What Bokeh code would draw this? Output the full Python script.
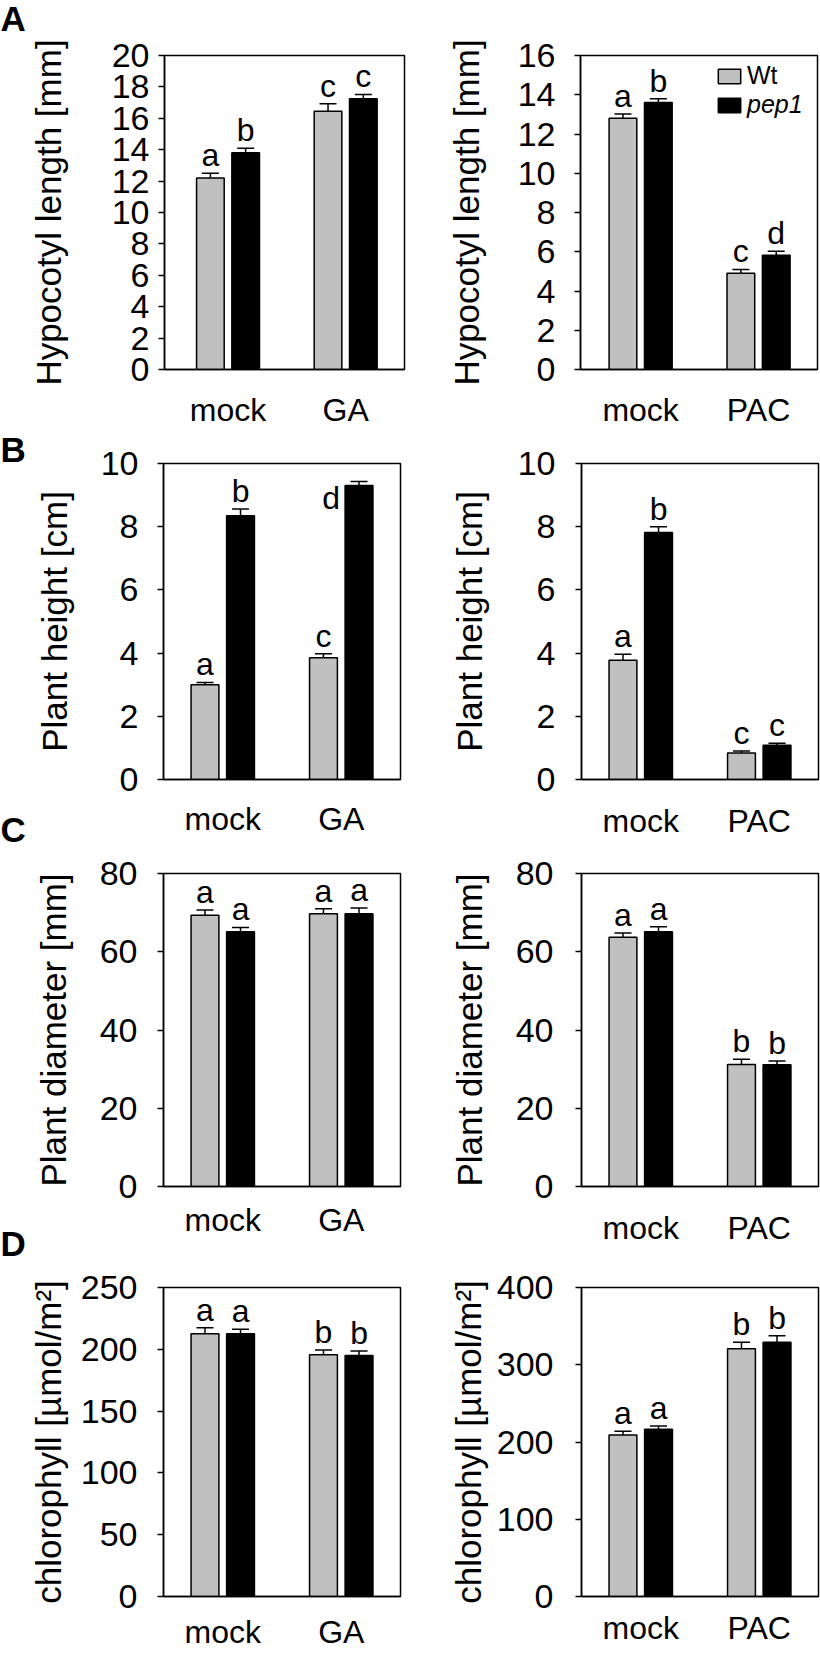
from bokeh.plotting import figure
from bokeh.models import (ColumnDataSource, Range1d, FixedTicker, Whisker, TeeHead,
                          Label, Legend, LegendItem)
from bokeh.layouts import row, column
from bokeh.embed import file_html
from bokeh.resources import INLINE
from bokeh.core.properties import value

# ---------------- data ----------------
GENOTYPES = ["Wt", "pep1"]

# A left: hypocotyl length, GA
A1_CATS = ["mock", "GA"]
A1_WT = [12.2, 16.45]
A1_WT_ERR = [0.3, 0.48]
A1_PEP = [13.8, 17.25]
A1_PEP_ERR = [0.3, 0.27]
A1_SIG_WT = ["a", "c"]
A1_SIG_PEP = ["b", "c"]

# A right: hypocotyl length, PAC
A2_CATS = ["mock", "PAC"]
A2_WT = [12.8, 4.9]
A2_WT_ERR = [0.22, 0.2]
A2_PEP = [13.6, 5.82]
A2_PEP_ERR = [0.2, 0.2]
A2_SIG_WT = ["a", "c"]
A2_SIG_PEP = ["b", "d"]

# B left: plant height, GA
B1_CATS = ["mock", "GA"]
B1_WT = [3.0, 3.85]
B1_WT_ERR = [0.07, 0.13]
B1_PEP = [8.35, 9.3]
B1_PEP_ERR = [0.21, 0.13]
B1_SIG_WT = ["a", "c"]
B1_SIG_PEP = ["b", "d"]

# B right: plant height, PAC
B2_CATS = ["mock", "PAC"]
B2_WT = [3.77, 0.84]
B2_WT_ERR = [0.19, 0.06]
B2_PEP = [7.82, 1.08]
B2_PEP_ERR = [0.18, 0.07]
B2_SIG_WT = ["a", "c"]
B2_SIG_PEP = ["b", "c"]

# C left: plant diameter, GA
C1_CATS = ["mock", "GA"]
C1_WT = [69.3, 69.7]
C1_WT_ERR = [1.4, 1.3]
C1_PEP = [65.1, 69.7]
C1_PEP_ERR = [1.1, 1.5]
C1_SIG_WT = ["a", "a"]
C1_SIG_PEP = ["a", "a"]

# C right: plant diameter, PAC
C2_CATS = ["mock", "PAC"]
C2_WT = [63.7, 31.2]
C2_WT_ERR = [1.1, 1.3]
C2_PEP = [65.1, 31.1]
C2_PEP_ERR = [1.3, 1.0]
C2_SIG_WT = ["a", "b"]
C2_SIG_PEP = ["a", "b"]

# D left: chlorophyll, GA
D1_CATS = ["mock", "GA"]
D1_WT = [212.6, 195.5]
D1_WT_ERR = [4.8, 4.0]
D1_PEP = [212.6, 195.0]
D1_PEP_ERR = [3.7, 3.7]
D1_SIG_WT = ["a", "b"]
D1_SIG_PEP = ["a", "b"]

# D right: chlorophyll, PAC
D2_CATS = ["mock", "PAC"]
D2_WT = [208.9, 320.6]
D2_WT_ERR = [5.0, 8.5]
D2_PEP = [216.5, 329.1]
D2_PEP_ERR = [4.1, 8.4]
D2_SIG_WT = ["a", "b"]
D2_SIG_PEP = ["a", "b"]

# ---------------- style ----------------
FONT = "Liberation Sans"
GREY = "#c0c0c0"
OFF = 0.15
BAR_W = 0.235
LW = 1.5
SIG_DY = -18


def panel(cats, wt, wt_err, pep, pep_err, sig_wt, sig_pep, ylabel, ymax, ystep,
          w, h, bl, br, bt, bb, x0, tick_sd, title_sd, xlab_sd, moved=None):
    p = figure(width=w, height=h, x_range=Range1d(x0, len(cats) - 0.5),
               y_range=Range1d(0, ymax), output_backend="svg",
               toolbar_location=None, title=None,
               min_border_left=bl, min_border_right=br,
               min_border_top=bt, min_border_bottom=bb)
    p.outline_line_color = "black"
    p.outline_line_width = LW
    p.outline_line_alpha = 1
    p.xgrid.visible = False
    p.ygrid.visible = False
    p.background_fill_color = "white"
    p.border_fill_color = "white"
    moved = moved or {}
    idx = list(range(len(cats)))
    rends = []
    for si, (vals, errs, sig, off, color) in enumerate(
            ((wt, wt_err, sig_wt, -OFF, GREY), (pep, pep_err, sig_pep, OFF, "black"))):
        xs = [i + off for i in idx]
        dx = [moved.get((si, i), (0, SIG_DY))[0] for i in idx]
        dy = [moved.get((si, i), (0, SIG_DY))[1] for i in idx]
        src = ColumnDataSource(dict(x=xs, top=vals,
                                    upper=[v + e for v, e in zip(vals, errs)],
                                    sig=sig, dx=dx, dy=dy))
        r = p.vbar(x="x", top="top", bottom=0, width=BAR_W, source=src,
                   fill_color=color, line_color="black", line_width=LW)
        rends.append(r)
        p.add_layout(Whisker(source=src, base="x", lower="top", upper="upper",
                             dimension="height", line_width=LW, line_color="black",
                             upper_head=TeeHead(size=17, line_width=LW, line_color="black"),
                             lower_head=None))
        p.text(x="x", y="upper", text="sig", source=src, x_offset="dx", y_offset="dy",
               text_align="center", text_baseline="alphabetic",
               text_font=value(FONT), text_font_size=value("32px"), text_color="black")

    ya = p.yaxis[0]
    ya.ticker = FixedTicker(ticks=list(range(0, ymax + 1, ystep)))
    ya.major_tick_out = 6
    ya.major_tick_in = 0
    ya.minor_tick_out = 0
    ya.minor_tick_in = 0
    ya.major_tick_line_width = LW
    ya.major_tick_line_color = "black"
    ya.axis_line_width = LW
    ya.axis_line_color = "black"
    ya.major_label_text_font = FONT
    ya.major_label_text_font_size = "34px"
    ya.major_label_text_color = "black"
    ya.major_label_standoff = tick_sd
    ya.axis_label = ylabel
    ya.axis_label_text_font = FONT
    ya.axis_label_text_font_size = "35px"
    ya.axis_label_text_font_style = "normal"
    ya.axis_label_text_color = "black"
    ya.axis_label_standoff = title_sd

    xa = p.xaxis[0]
    xa.ticker = FixedTicker(ticks=idx)
    xa.major_label_overrides = {i: c for i, c in enumerate(cats)}
    xa.major_tick_out = 0
    xa.major_tick_in = 0
    xa.minor_tick_out = 0
    xa.minor_tick_in = 0
    xa.axis_line_width = LW
    xa.axis_line_color = "black"
    xa.major_label_text_font = FONT
    xa.major_label_text_font_size = "32px"
    xa.major_label_text_color = "black"
    xa.major_label_standoff = xlab_sd
    return p, rends


def letter(p, txt, x, y, side):
    p.add_layout(Label(x=x, y=y, x_units="canvas", y_units="canvas", text=txt,
                       text_font=FONT, text_font_size="35px", text_font_style="bold",
                       text_color="black", text_align="left", text_baseline="alphabetic"),
                 side)


pA1, _ = panel(A1_CATS, A1_WT, A1_WT_ERR, A1_PEP, A1_PEP_ERR, A1_SIG_WT, A1_SIG_PEP,
               "Hypocotyl length [mm]", 20, 2, 410, 430, 162, 6, 53, 60, -0.54, 9, 41, 22)
pA2, rA2 = panel(A2_CATS, A2_WT, A2_WT_ERR, A2_PEP, A2_PEP_ERR, A2_SIG_WT, A2_SIG_PEP,
                 "Hypocotyl length [mm]", 16, 2, 410, 430, 170, 3, 55, 58, -0.51, 19, 29, 22)
pB1, _ = panel(B1_CATS, B1_WT, B1_WT_ERR, B1_PEP, B1_PEP_ERR, B1_SIG_WT, B1_SIG_PEP,
               "Plant height [cm]", 10, 2, 430, 421, 163, 30, 33, 72, -0.5, 19, 24, 21,
               moved={(1, 1): (-28, 16)})
pB2, _ = panel(B2_CATS, B2_WT, B2_WT_ERR, B2_PEP, B2_PEP_ERR, B2_SIG_WT, B2_SIG_PEP,
               "Plant height [cm]", 10, 2, 390, 421, 151, 2, 33, 72, -0.5, 20, 26, 23)
pC1, _ = panel(C1_CATS, C1_WT, C1_WT_ERR, C1_PEP, C1_PEP_ERR, C1_SIG_WT, C1_SIG_PEP,
               "Plant diameter [mm]", 80, 20, 430, 414, 163, 30, 22, 76, -0.5, 20, 24, 15)
pC2, _ = panel(C2_CATS, C2_WT, C2_WT_ERR, C2_PEP, C2_PEP_ERR, C2_SIG_WT, C2_SIG_PEP,
               "Plant diameter [mm]", 80, 20, 390, 414, 151, 2, 18, 79, -0.5, 22, 24, 23)
pD1, _ = panel(D1_CATS, D1_WT, D1_WT_ERR, D1_PEP, D1_PEP_ERR, D1_SIG_WT, D1_SIG_PEP,
               "chlorophyll [µmol/m²]", 250, 50, 410, 387, 163, 10, 18, 53, -0.5, 20, 10, 17)
pD2, _ = panel(D2_CATS, D2_WT, D2_WT_ERR, D2_PEP, D2_PEP_ERR, D2_SIG_WT, D2_SIG_PEP,
               "chlorophyll [µmol/m²]", 400, 100, 410, 387, 171, 2, 22, 49, -0.5, 22, 6, 13)

# panel letters (canvas coordinates of the figure that holds them)
letter(pA1, "A", 0, 18, "left")
letter(pB1, "B", 0, 19, "left")
letter(pB1, "C", 0, 399, "right")
letter(pC1, "D", 0, 392, "right")

# legend (A right)
leg_common = dict(glyph_width=28, glyph_height=18, label_standoff=4, padding=0, margin=0,
                  spacing=0, border_line_color=None, background_fill_alpha=0,
                  label_text_font=FONT, label_text_font_size="25px",
                  label_text_color="black", label_height=18)
leg1 = Legend(items=[LegendItem(label=GENOTYPES[0], renderers=[rA2[0]])],
              location=(135, 279), **leg_common)
leg2 = Legend(items=[LegendItem(label=GENOTYPES[1], renderers=[rA2[1]])],
              location=(135, 250), label_text_font_style="italic", **leg_common)
pA2.add_layout(leg1)
pA2.add_layout(leg2)

layout = column(row(pA1, pA2, spacing=0), row(pB1, pB2, spacing=0),
                row(pC1, pC2, spacing=0), row(pD1, pD2, spacing=0), spacing=0)

open("out.html", "w").write(file_html(layout, INLINE))
